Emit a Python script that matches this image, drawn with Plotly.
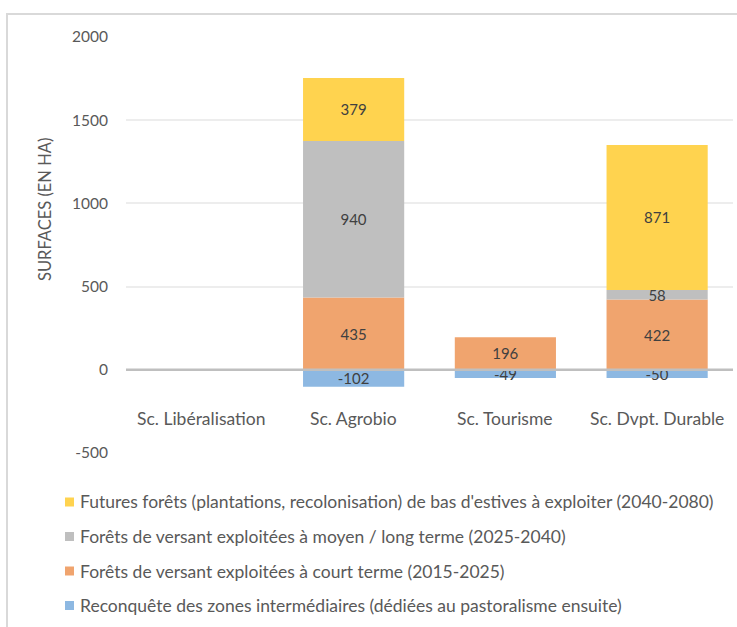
import plotly.graph_objects as go

# Scenario categories and surfaces (ha) per forest type
categories = ["Sc. Libéralisation", "Sc. Agrobio", "Sc. Tourisme", "Sc. Dvpt. Durable"]

reconquete = [None, -102, -49, -50]
court_terme = [None, 435, 196, 422]
moyen_long = [None, 940, None, 58]
futures = [None, 379, None, 871]

series_names = [
    "Reconquête des zones intermédiaires (dédiées au pastoralisme ensuite)",
    "Forêts de versant exploitées à court terme (2015-2025)",
    "Forêts de versant exploitées à moyen / long terme (2025-2040)",
    "Futures forêts (plantations, recolonisation) de bas d'estives à exploiter (2040-2080)",
]
series_values = [reconquete, court_terme, moyen_long, futures]
series_colors = ["#8DB8E2", "#F0A46E", "#BFBFBF", "#FFD34F"]

y_ticks = [-500, 0, 500, 1000, 1500, 2000]
y_tick_labels = [str(v) for v in y_ticks]

FONT = "Lato"
TEXT_GREY = "#595959"

W, H = 737, 627
L, R, T, B = 126, 4, 37, 174
plot_w = W - L - R
plot_h = H - T - B


def px_x(px):
    return (px - L) / plot_w


def px_y(py):
    return (H - B - py) / plot_h


fig = go.Figure()
for name, vals, col in zip(series_names, series_values, series_colors):
    fig.add_trace(go.Bar(
        x=categories,
        y=vals,
        name=name,
        marker=dict(color=col, line=dict(width=0)),
        text=[("" if v is None else str(v)) for v in vals],
        textposition="inside",
        insidetextanchor="middle",
        textangle=0,
        constraintext="none",
        textfont=dict(family=FONT, size=15, color="#404040"),
        cliponaxis=False,
        hoverinfo="skip",
    ))

annotations = [
    dict(
        text="SURFACES (EN HA)", textangle=-90,
        x=px_x(45), y=px_y(210), xref="paper", yref="paper",
        showarrow=False, font=dict(family=FONT, size=16.5, color=TEXT_GREY),
        xanchor="center", yanchor="middle",
    )
]
for c in categories:
    annotations.append(dict(
        text=c, x=c, y=px_y(418), xref="x", yref="paper",
        showarrow=False, font=dict(family=FONT, size=17.5, color=TEXT_GREY),
        xanchor="center", yanchor="middle",
    ))

shapes = [
    # zero line drawn over the bars
    dict(type="line", xref="paper", yref="y", x0=0, x1=1, y0=0, y1=0,
         line=dict(color="#BFBFBF", width=2.5), layer="above"),
    # chart frame
    dict(type="rect", xref="paper", yref="paper",
         x0=px_x(7), x1=px_x(760), y0=px_y(650), y1=px_y(14),
         line=dict(color="#D9D9D9", width=2), fillcolor="rgba(0,0,0,0)", layer="below"),
]

# legend: top entry is the last stacked series
row_y = [502, 536.5, 571, 605.5]
for i, (name, col) in enumerate(zip(reversed(series_names), reversed(series_colors))):
    cy = row_y[i]
    shapes.append(dict(
        type="rect", xref="paper", yref="paper",
        x0=px_x(65), x1=px_x(74), y0=px_y(cy + 4.5), y1=px_y(cy - 4.5),
        fillcolor=col, line=dict(width=0),
    ))
    annotations.append(dict(
        text=name, x=px_x(78), y=px_y(cy), xref="paper", yref="paper",
        showarrow=False, font=dict(family=FONT, size=17.5, color=TEXT_GREY),
        xanchor="left", yanchor="middle",
    ))

fig.update_layout(
    width=W, height=H,
    margin=dict(l=L, r=R, t=T, b=B, pad=0),
    barmode="relative",
    bargap=1/3,
    plot_bgcolor="white",
    paper_bgcolor="white",
    font=dict(family=FONT, size=14, color=TEXT_GREY),
    xaxis=dict(showticklabels=False, showgrid=False, showline=False, zeroline=False,
               ticks="", fixedrange=True),
    yaxis=dict(range=[-500, 2000], tickmode="array", tickvals=y_ticks,
               ticktext=y_tick_labels, showgrid=True,
               gridcolor="#EDEDED", gridwidth=1.5, zeroline=False, showline=False,
               ticks="", ticklabelstandoff=17,
               tickfont=dict(family=FONT, size=15.5, color=TEXT_GREY)),
    showlegend=False,
    annotations=annotations,
    shapes=shapes,
)

fig.write_html("out.html")
